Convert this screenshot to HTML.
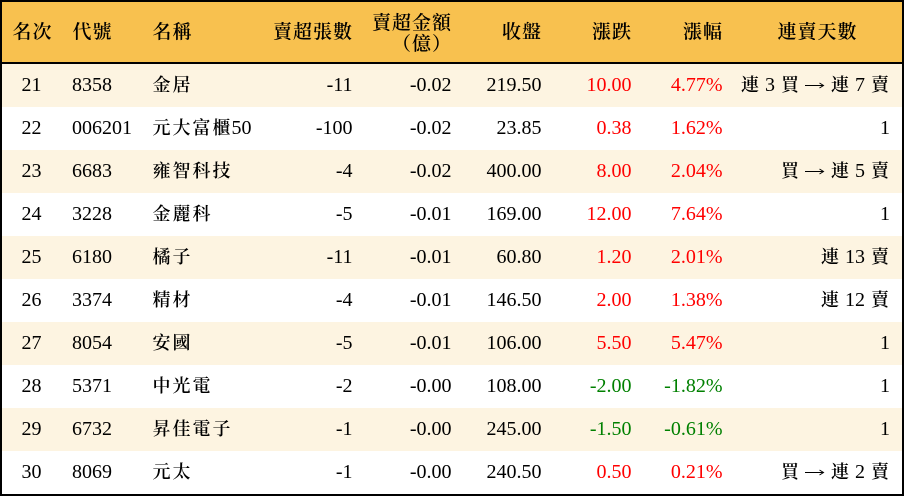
<!DOCTYPE html>
<html><head><meta charset="utf-8">
<style>
*{margin:0;padding:0;box-sizing:border-box}
body{width:904px;height:496px;overflow:hidden;background:#fff;position:relative;font-family:"Liberation Serif","Noto Serif CJK SC",serif;font-size:20px;color:#000}
.frame{position:absolute;left:0;top:0;width:904px;height:496px;border:2px solid #000;z-index:5}
.hd{position:absolute;left:0;top:0;width:904px;height:64px;background:#F8C14F;border-bottom:2px solid #000}
.h{position:absolute;top:2px;height:60px;line-height:60px;white-space:nowrap}
.h2{position:absolute;top:12px;line-height:20px;white-space:nowrap;text-align:right}
.r{position:absolute;left:0;width:904px;height:43px;line-height:43px;white-space:nowrap}
.o{background:#FDF4E1}
.t{position:absolute;top:0;white-space:nowrap}
.c{display:inline-block;width:20px;text-align:center;font-family:"Noto Serif CJK SC","Noto Sans CJK TC",serif;font-size:18px;font-weight:600;line-height:1}
.hd .c{font-size:19px;font-weight:600}
.arr{display:inline-block;width:20px;height:43px;vertical-align:top;position:relative}
.arr svg{position:absolute;left:0;top:17px}
.red{color:#f00}.grn{color:#008000}
.c1{left:21.5px}.c2{left:72px}.c3{left:151.5px}.c4{right:551.5px}.c5{right:452.5px}.c6{right:362.5px}.c7{right:272.5px}.c8{right:181.5px}.c9{right:14px}
</style></head>
<body>
<div class="hd">
  <div class="h" style="left:12px"><span class="c">名</span><span class="c">次</span></div>
  <div class="h" style="left:72px"><span class="c">代</span><span class="c">號</span></div>
  <div class="h" style="left:152px"><span class="c">名</span><span class="c">稱</span></div>
  <div class="h" style="right:551.5px"><span class="c">賣</span><span class="c">超</span><span class="c">張</span><span class="c">數</span></div>
  <div class="h2" style="right:452.5px"><span class="c">賣</span><span class="c">超</span><span class="c">金</span><span class="c">額</span><br><span class="c">（</span><span class="c">億</span><span class="c">）</span></div>
  <div class="h" style="right:362.5px"><span class="c">收</span><span class="c">盤</span></div>
  <div class="h" style="right:272.5px"><span class="c">漲</span><span class="c">跌</span></div>
  <div class="h" style="right:181.5px"><span class="c">漲</span><span class="c">幅</span></div>
  <div class="h" style="left:777px"><span class="c">連</span><span class="c">賣</span><span class="c">天</span><span class="c">數</span></div>
</div>

<div class="r o" style="top:64px">
  <div class="t c1">21</div><div class="t c2">8358</div>
  <div class="t c3"><span class="c">金</span><span class="c">居</span></div>
  <div class="t c4">-11</div><div class="t c5">-0.02</div><div class="t c6">219.50</div>
  <div class="t c7 red">10.00</div><div class="t c8 red">4.77%</div>
  <div class="t c9"><span class="c">連</span> 3 <span class="c">買</span> <span class="arr"><svg width="20" height="8" viewBox="0 0 20 8"><path d="M0 4.5H18" stroke="#000" stroke-width="1"/><path d="M14.5 2L18.5 4.5L14.5 7" fill="none" stroke="#000" stroke-width="1"/></svg></span> <span class="c">連</span> 7 <span class="c">賣</span></div>
</div>

<div class="r" style="top:107px">
  <div class="t c1">22</div><div class="t c2">006201</div>
  <div class="t c3"><span class="c">元</span><span class="c">大</span><span class="c">富</span><span class="c">櫃</span>50</div>
  <div class="t c4">-100</div><div class="t c5">-0.02</div><div class="t c6">23.85</div>
  <div class="t c7 red">0.38</div><div class="t c8 red">1.62%</div>
  <div class="t c9">1</div>
</div>

<div class="r o" style="top:150px">
  <div class="t c1">23</div><div class="t c2">6683</div>
  <div class="t c3"><span class="c">雍</span><span class="c">智</span><span class="c">科</span><span class="c">技</span></div>
  <div class="t c4">-4</div><div class="t c5">-0.02</div><div class="t c6">400.00</div>
  <div class="t c7 red">8.00</div><div class="t c8 red">2.04%</div>
  <div class="t c9"><span class="c">買</span> <span class="arr"><svg width="20" height="8" viewBox="0 0 20 8"><path d="M0 4.5H18" stroke="#000" stroke-width="1"/><path d="M14.5 2L18.5 4.5L14.5 7" fill="none" stroke="#000" stroke-width="1"/></svg></span> <span class="c">連</span> 5 <span class="c">賣</span></div>
</div>

<div class="r" style="top:193px">
  <div class="t c1">24</div><div class="t c2">3228</div>
  <div class="t c3"><span class="c">金</span><span class="c">麗</span><span class="c">科</span></div>
  <div class="t c4">-5</div><div class="t c5">-0.01</div><div class="t c6">169.00</div>
  <div class="t c7 red">12.00</div><div class="t c8 red">7.64%</div>
  <div class="t c9">1</div>
</div>

<div class="r o" style="top:236px">
  <div class="t c1">25</div><div class="t c2">6180</div>
  <div class="t c3"><span class="c">橘</span><span class="c">子</span></div>
  <div class="t c4">-11</div><div class="t c5">-0.01</div><div class="t c6">60.80</div>
  <div class="t c7 red">1.20</div><div class="t c8 red">2.01%</div>
  <div class="t c9"><span class="c">連</span> 13 <span class="c">賣</span></div>
</div>

<div class="r" style="top:279px">
  <div class="t c1">26</div><div class="t c2">3374</div>
  <div class="t c3"><span class="c">精</span><span class="c">材</span></div>
  <div class="t c4">-4</div><div class="t c5">-0.01</div><div class="t c6">146.50</div>
  <div class="t c7 red">2.00</div><div class="t c8 red">1.38%</div>
  <div class="t c9"><span class="c">連</span> 12 <span class="c">賣</span></div>
</div>

<div class="r o" style="top:322px">
  <div class="t c1">27</div><div class="t c2">8054</div>
  <div class="t c3"><span class="c">安</span><span class="c">國</span></div>
  <div class="t c4">-5</div><div class="t c5">-0.01</div><div class="t c6">106.00</div>
  <div class="t c7 red">5.50</div><div class="t c8 red">5.47%</div>
  <div class="t c9">1</div>
</div>

<div class="r" style="top:365px">
  <div class="t c1">28</div><div class="t c2">5371</div>
  <div class="t c3"><span class="c">中</span><span class="c">光</span><span class="c">電</span></div>
  <div class="t c4">-2</div><div class="t c5">-0.00</div><div class="t c6">108.00</div>
  <div class="t c7 grn">-2.00</div><div class="t c8 grn">-1.82%</div>
  <div class="t c9">1</div>
</div>

<div class="r o" style="top:408px">
  <div class="t c1">29</div><div class="t c2">6732</div>
  <div class="t c3"><span class="c">昇</span><span class="c">佳</span><span class="c">電</span><span class="c">子</span></div>
  <div class="t c4">-1</div><div class="t c5">-0.00</div><div class="t c6">245.00</div>
  <div class="t c7 grn">-1.50</div><div class="t c8 grn">-0.61%</div>
  <div class="t c9">1</div>
</div>

<div class="r" style="top:451px">
  <div class="t c1">30</div><div class="t c2">8069</div>
  <div class="t c3"><span class="c">元</span><span class="c">太</span></div>
  <div class="t c4">-1</div><div class="t c5">-0.00</div><div class="t c6">240.50</div>
  <div class="t c7 red">0.50</div><div class="t c8 red">0.21%</div>
  <div class="t c9"><span class="c">買</span> <span class="arr"><svg width="20" height="8" viewBox="0 0 20 8"><path d="M0 4.5H18" stroke="#000" stroke-width="1"/><path d="M14.5 2L18.5 4.5L14.5 7" fill="none" stroke="#000" stroke-width="1"/></svg></span> <span class="c">連</span> 2 <span class="c">賣</span></div>
</div>

<div class="frame"></div>
</body></html>
